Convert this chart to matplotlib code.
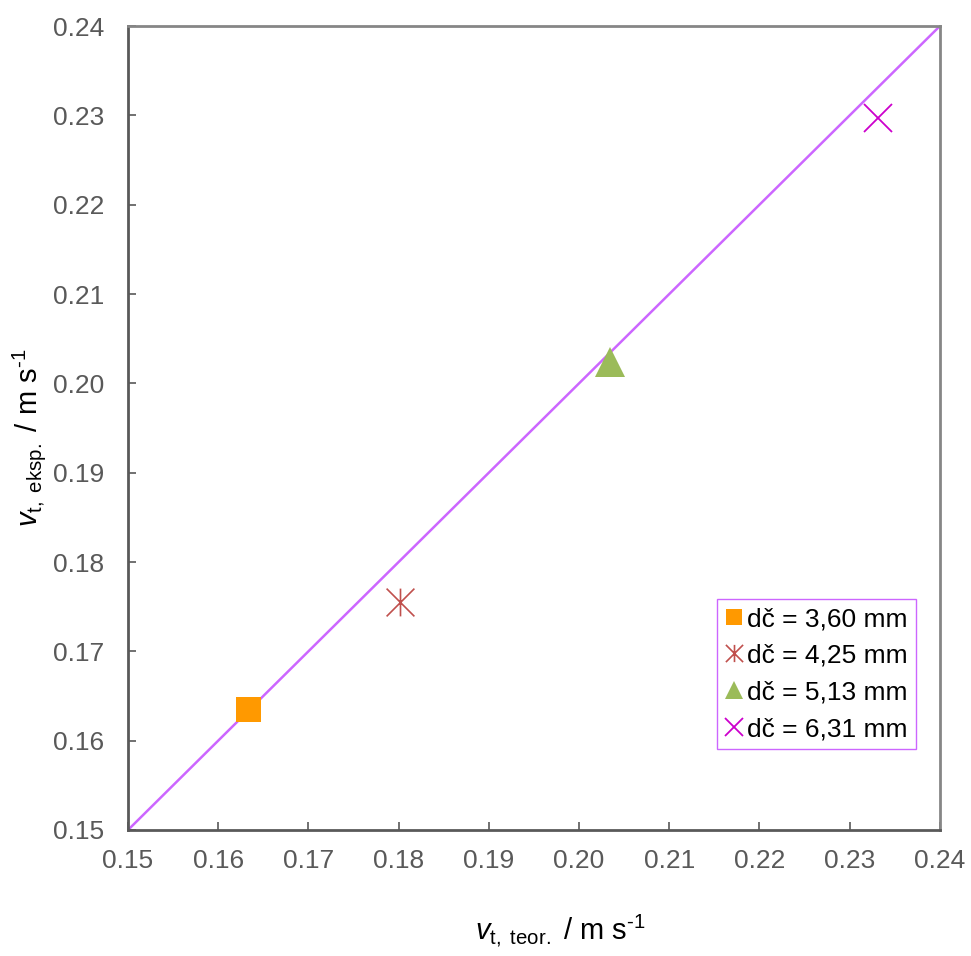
import numpy as np
import matplotlib
matplotlib.use("Agg")
import matplotlib.pyplot as plt
from matplotlib.path import Path

plt.rcParams["font.family"] = ["Liberation Sans", "DejaVu Sans"]
plt.rcParams["mathtext.fontset"] = "custom"
plt.rcParams["mathtext.rm"] = "Liberation Sans"
plt.rcParams["mathtext.it"] = "Liberation Sans:italic"

# ---------------------------------------------------------------------------
# Data
# ---------------------------------------------------------------------------
labels   = ["dč = 3,60 mm", "dč = 4,25 mm", "dč = 5,13 mm", "dč = 6,31 mm"]
v_teor   = [0.1633, 0.1801, 0.2034, 0.2331]
v_eksp   = [0.1635, 0.1755, 0.2024, 0.2297]
diag     = [0.15, 0.24]

GREY_TXT = "#595959"
LINE_COL = "#cc66ff"

# Excel-style star marker: x with a vertical bar
STAR = Path(
    [(-1, -1), (1, 1), (-1, 1), (1, -1), (0, -1), (0, 1)],
    [Path.MOVETO, Path.LINETO, Path.MOVETO, Path.LINETO, Path.MOVETO, Path.LINETO],
)

styles = [
    dict(marker="s", color="#ff9900", ms=18, mew=0),
    dict(marker=STAR, color="#c0504d", ms=20, mew=1.2),
    dict(marker="^", color="#9bbb59", ms=22, mew=0),
    dict(marker="x", color="#cc00cc", ms=20, mew=1.3),
]

fig = plt.figure(figsize=(9.71, 9.56), dpi=100)
ax = fig.add_axes([0.1318, 0.1318, 0.8362, 0.841])

ax.plot(diag, diag, color=LINE_COL, linewidth=1.8, zorder=2)

for x, y, lab, st in zip(v_teor, v_eksp, labels, styles):
    ax.plot([x], [y], linestyle="none", marker=st["marker"], color=st["color"],
            markersize=st["ms"], markeredgewidth=st["mew"], label=lab, zorder=3)

ax.set_xlim(0.15, 0.24)
ax.set_ylim(0.15, 0.24)
ticks = np.round(np.arange(0.15, 0.2401, 0.01), 2)
ax.set_xticks(ticks)
ax.set_yticks(ticks)
ax.set_xticklabels([f"{t:.2f}" for t in ticks])
ax.set_yticklabels([f"{t:.2f}" for t in ticks])
ax.tick_params(axis="both", direction="in", length=6, width=1.2,
               colors=GREY_TXT, labelsize=19)
ax.tick_params(axis="y", pad=17)
ax.tick_params(axis="x", pad=14)

for side in ["left", "bottom"]:
    ax.spines[side].set_color("#595959")
    ax.spines[side].set_linewidth(2)
for side in ["top", "right"]:
    ax.spines[side].set_color("#868686")
    ax.spines[side].set_linewidth(2)

ax.set_xlabel(r"$\mathit{v}_{\mathrm{t,\ teor.}}$ / m s$^{\text{-1}}$",
              fontsize=21, color="black")
ax.set_ylabel(r"$\mathit{v}_{\mathrm{t,\ eksp.}}$ / m s$^{\text{-1}}$",
              fontsize=21, color="black")
ax.xaxis.set_label_coords(0.532, -0.103)
ax.yaxis.set_label_coords(-0.0985, 0.488)

leg = ax.legend(loc="lower right", bbox_to_anchor=(0.9705, 0.1008),
                fontsize=19, markerscale=0.62, handlelength=0.7,
                handletextpad=0.15, borderpad=0.3, labelspacing=0.48,
                borderaxespad=0, fancybox=False, framealpha=1)
leg.get_frame().set_edgecolor(LINE_COL)
leg.get_frame().set_linewidth(1.0)

fig.savefig("out.png", dpi=100, facecolor="white")
